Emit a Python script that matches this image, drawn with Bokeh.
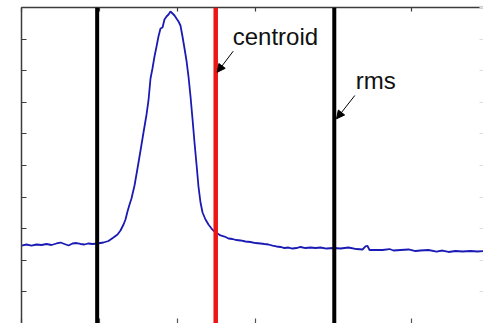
from bokeh.plotting import figure
from bokeh.models import (Range1d, LinearAxis, FixedTicker, Span, Arrow, NormalHead, Label,
                          ColumnDataSource, CustomLabelingPolicy)
from bokeh.embed import file_html
from bokeh.resources import INLINE

# ---- data ----
channel = [0, 6.4, 12.8, 19.2, 25.6, 32.1, 38.5, 44.9, 50.0, 55.1, 60.3, 65.4, 70.5, 75.6, 80.8,
           85.9, 91.0, 97.4, 105.1, 111.5, 117.9, 123.1, 126.9, 130.8, 133.3, 135.9, 138.5, 141.0,
           144.9, 148.7, 152.6, 156.4, 160.3, 162.8, 165.4, 167.9, 170.5, 173.1, 175.6, 178.2,
           180.8, 183.3, 185.9, 188.5, 191.0, 193.6, 196.2, 198.7, 201.3, 203.8, 206.4, 209.0,
           211.5, 214.1, 216.7, 219.2, 221.8, 224.4, 226.9, 229.5, 232.1, 235.9, 239.7, 243.6,
           247.4, 251.3, 255.1, 260.3, 265.4, 270.5, 275.6, 280.8, 287.2, 293.6, 300.0, 306.4,
           311.5, 316.7, 321.8, 326.9, 332.1, 337.2, 342.3, 347.5, 352.6, 357.7, 364.1, 370.5,
           376.9, 383.3, 391.0, 400.0, 409.0, 419.2, 429.5, 437.2, 441.0, 443.6, 446.2, 453.8,
           462.8, 471.8, 476.9, 485.9, 496.2, 505.1, 511.5, 521.8, 532.1, 539.7, 547.4, 556.4,
           565.4, 575.6, 584.6, 592.3]
intensity = [2.468, 2.500, 2.468, 2.500, 2.484, 2.516, 2.484, 2.532, 2.563, 2.516, 2.468, 2.532,
             2.547, 2.516, 2.500, 2.532, 2.516, 2.532, 2.563, 2.611, 2.722, 2.816, 2.943, 3.133,
             3.291, 3.544, 3.766, 3.956, 4.367, 4.905, 5.475, 6.044, 6.614, 7.057, 7.753, 8.070,
             8.449, 8.766, 9.082, 9.335, 9.367, 9.620, 9.715, 9.778, 9.873, 9.810, 9.747, 9.652,
             9.557, 9.430, 9.082, 8.703, 8.323, 7.816, 7.184, 6.487, 5.728, 5.032, 4.335, 3.829,
             3.513, 3.291, 3.133, 3.006, 2.911, 2.848, 2.785, 2.753, 2.690, 2.674, 2.642, 2.627,
             2.595, 2.579, 2.547, 2.532, 2.516, 2.500, 2.468, 2.437, 2.421, 2.389, 2.405, 2.373,
             2.389, 2.421, 2.389, 2.405, 2.389, 2.405, 2.373, 2.389, 2.373, 2.405, 2.357, 2.342,
             2.437, 2.453, 2.326, 2.326, 2.326, 2.357, 2.310, 2.326, 2.342, 2.294, 2.310, 2.326,
             2.278, 2.310, 2.263, 2.294, 2.278, 2.294, 2.278, 2.294]

centroid = 249.0
rms = 152.0
x_ticks = [0, 100, 200, 300, 400, 500, 600]
y_ticks = [0, 1, 2, 3, 4, 5, 6, 7, 8, 9, 10]
x_view = (0, 592.3)
y_view = (0, 10)

# annotation anchors (data coords)
centroid_label = (270.8, 9.08)
centroid_arrow = (271.4, 8.617, 250.9, 7.95)
rms_label = (428.5, 7.69)
rms_arrow = (427.3, 7.215, 403.9, 6.478)

FRAME = "#3c3c3c"

p = figure(width=483, height=323, output_backend="svg", toolbar_location=None,
           x_range=Range1d(*x_view), y_range=Range1d(*y_view),
           x_axis_location=None, y_axis_location=None,
           min_border_left=21, min_border_top=7, min_border_right=0, min_border_bottom=0)
p.outline_line_color = None
p.background_fill_color = "white"
p.border_fill_color = "white"
for g in p.grid:
    g.visible = False


def make_axis(ticks, line_color, tick_color, tick_len):
    ax = LinearAxis(ticker=FixedTicker(ticks=ticks), major_tick_in=tick_len, major_tick_out=0,
                    minor_tick_in=0, minor_tick_out=0, major_label_text_font_size="0px",
                    major_label_policy=CustomLabelingPolicy(code=""),
                    major_label_standoff=0, axis_line_color=line_color, axis_line_width=1.5,
                    major_tick_line_color=tick_color, major_tick_line_width=1.2)
    return ax


p.add_layout(make_axis(y_ticks, FRAME, FRAME, 5), "left")
p.add_layout(make_axis(x_ticks, FRAME, FRAME, 4), "above")
p.add_layout(make_axis(x_ticks, None, "#555555", 5), "below")
p.add_layout(make_axis(y_ticks, None, "#dddddd", 4), "right")

src = ColumnDataSource(data=dict(x=channel, y=intensity))
p.line("x", "y", source=src, line_color="#1a1ab4", line_width=1.8)

p.add_layout(Span(location=centroid - rms, dimension="height", line_color="black", line_width=4))
p.add_layout(Span(location=centroid, dimension="height", line_color="#ee1515", line_width=4.5))
p.add_layout(Span(location=centroid + rms, dimension="height", line_color="black", line_width=4))

for (xs, ys, xe, ye) in (centroid_arrow, rms_arrow):
    p.add_layout(Arrow(end=NormalHead(size=8, fill_color="black", line_color="black", line_width=1),
                       x_start=xs, y_start=ys, x_end=xe, y_end=ye,
                       line_color="black", line_width=1))

for (lx, ly), txt in ((centroid_label, "centroid"), (rms_label, "rms")):
    p.add_layout(Label(x=lx, y=ly, text=txt, text_font="Liberation Sans", text_font_size="24px",
                       text_color="#111111", text_baseline="alphabetic", text_align="left"))

open("out.html", "w").write(file_html(p, INLINE))
